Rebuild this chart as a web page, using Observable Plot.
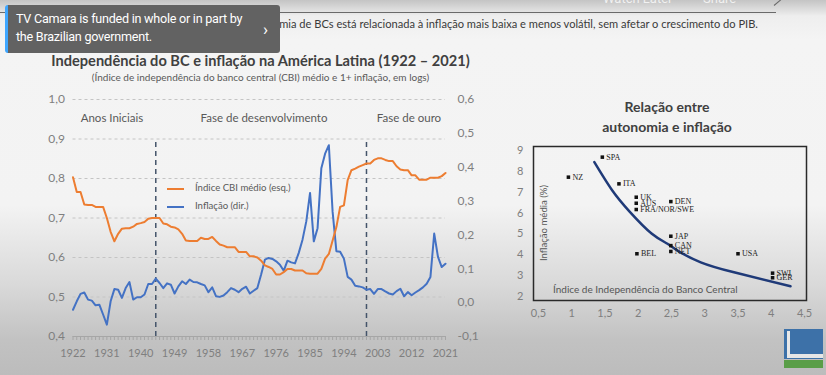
<!DOCTYPE html>
<html>
<head>
<meta charset="utf-8">
<script src="https://cdn.jsdelivr.net/npm/d3@7"></script>
<script src="https://cdn.jsdelivr.net/npm/@observablehq/plot@0.6"></script>
<style>
  html, body { margin: 0; padding: 0; }
  body {
    width: 826px; height: 375px; overflow: hidden; position: relative;
    font-family: Lato, "Open Sans", sans-serif;
    background: linear-gradient(to bottom, #c4c4c4 0px, #eeeeee 16px, #f4f4f4 40px, #f3f3f3 205px, #d9d9d9 285px, #c2c2c2 340px, #bcbcbc 375px);
  }
  .abs { position: absolute; }
  .topline { left: 0; top: 12px; width: 776px; height: 0; border-top: 1px solid #6a6a6a; }
  .topdiag { left: 774px; top: 5px; width: 17px; height: 0; border-top: 1px solid #6a6a6a; transform: rotate(-40deg); transform-origin: left center; }
  .yt { top: -9px; color: rgba(255,255,255,0.75); font-family: Roboto, sans-serif; font-size: 13px; }
  .headline { right: 68px; top: 17px; white-space: nowrap; font-family: Lato, sans-serif; font-size: 11.1px; color: #3a3a3a; }
  .infobox { left: 5px; top: 5px; width: 275px; height: 48px; background: #626262; border-radius: 3px; border-left: 3px solid #3ea6ff; box-sizing: border-box; }
  .infotext { left: 16px; top: 10px; color: #ffffff; font-family: Roboto, sans-serif; font-size: 12.6px; line-height: 18px; letter-spacing: -0.25px; }
  .chev { left: 263px; top: 19px; color: #fff; font-family: Roboto, sans-serif; font-size: 17px; }
  .title1 { left: 0; width: 521px; top: 52px; text-align: center; font-weight: bold; font-size: 14.6px; color: #404040; }
  .sub1 { left: 0; width: 521px; top: 71px; text-align: center; font-size: 10px; color: #595959; }
  .phase { top: 111px; font-size: 11.5px; color: #595959; transform: translateX(-50%); white-space: nowrap; }
  .leg { font-size: 9.6px; color: #595959; white-space: nowrap; }
  .legline { height: 0; width: 17px; }
  .title2 { left: 567px; width: 200px; top: 97px; text-align: center; font-weight: bold; font-size: 14px; line-height: 20px; color: #404040; }
  .ylab2 { left: 543px; top: 223px; font-size: 9.6px; color: #595959; transform: translate(-50%, -50%) rotate(-90deg); white-space: nowrap; }
  .xlab2 { left: 553px; top: 283px; font-size: 10px; color: #555; white-space: nowrap; }
  #left { left: 0; top: 90px; }
  #right { left: 500px; top: 140px; }
  .logo-blue { left: 784px; top: 329px; width: 39px; height: 30px; background: #3d71a8; }
  .logo-w1 { left: 787px; top: 331px; width: 3px; height: 27px; background: #e8e8e8; }
  .logo-w2 { left: 790px; top: 354px; width: 33px; height: 4px; background: #e6e6e6; }
  .logo-green { left: 784px; top: 360px; width: 39px; height: 8px; background: #5a9e48; }
</style>
</head>
<body>
<div class="abs topline"></div>
<div class="abs topdiag"></div>
<div class="abs yt" style="left:603px;">Watch Later</div>
<div class="abs yt" style="left:703px;">Share</div>
<div class="abs headline">Evidência empírica: maior autonomia de BCs está relacionada à inflação mais baixa e menos volátil, sem afetar o crescimento do PIB.</div>
<div class="abs infobox"></div>
<div class="abs infotext">TV Camara is funded in whole or in part by<br>the Brazilian government.</div>
<div class="abs chev">›</div>

<div class="abs title1">Independência do BC e inflação na América Latina (1922 – 2021)</div>
<div class="abs sub1">(Índice de independência do banco central (CBI) médio e 1+ inflação, em logs)</div>

<div class="abs" id="left"></div>
<div class="abs" id="right"></div>

<div class="abs phase" style="left:112px;">Anos Iniciais</div>
<div class="abs phase" style="left:264px;">Fase de desenvolvimento</div>
<div class="abs phase" style="left:409px;">Fase de ouro</div>

<div class="abs legline" style="left:167px; top:188px; border-top:2px solid #ED7D31;"></div>
<div class="abs leg" style="left:195px; top:182px;">Índice CBI médio (esq.)</div>
<div class="abs legline" style="left:167px; top:206px; border-top:2px solid #4472C4;"></div>
<div class="abs leg" style="left:195px; top:200px;">Inflação (dir.)</div>

<div class="abs title2">Relação entre<br>autonomia e inflação</div>
<div class="abs ylab2">Inflação média (%)</div>
<div class="abs xlab2">Índice de Independência do Banco Central</div>

<div class="abs logo-blue"></div>
<div class="abs logo-w1"></div>
<div class="abs logo-w2"></div>
<div class="abs logo-green"></div>

<script>
// ---------- Left chart data ----------
const years = d3.range(1922, 2022);
const cbiIndex = [
  0.803, 0.766, 0.766, 0.734, 0.733, 0.733, 0.728, 0.728, 0.728,
  0.700, 0.665, 0.641, 0.660, 0.673, 0.674, 0.674, 0.678, 0.685, 0.687, 0.690, 0.698, 0.700, 0.700, 0.700,
  0.686, 0.684, 0.678, 0.676, 0.671, 0.660, 0.643, 0.642, 0.642, 0.642, 0.650, 0.647, 0.647, 0.652, 0.642,
  0.633, 0.630, 0.626, 0.626, 0.626, 0.614, 0.614, 0.614, 0.603, 0.603, 0.600, 0.592, 0.580, 0.576, 0.571,
  0.557, 0.557, 0.563, 0.571, 0.571, 0.567, 0.567, 0.567, 0.560, 0.559, 0.559, 0.559, 0.571, 0.597, 0.609,
  0.643, 0.677, 0.728, 0.732, 0.796, 0.821, 0.825, 0.830, 0.834, 0.838, 0.838, 0.847, 0.851, 0.851, 0.847,
  0.844, 0.844, 0.831, 0.823, 0.821, 0.821, 0.808, 0.808, 0.797, 0.797, 0.797, 0.802, 0.802, 0.802, 0.806, 0.814
];
const inflation = [
  -0.021, 0.004, 0.026, 0.030, 0.009, 0.006, -0.008, -0.006, -0.035,
  -0.065, 0.004, 0.040, 0.038, 0.014, 0.043, 0.061, 0.009, 0.016, 0.016, 0.024, 0.055, 0.055, 0.071, 0.058,
  0.043, 0.057, 0.053, 0.027, 0.048, 0.063, 0.055, 0.068, 0.061, 0.060, 0.055, 0.051, 0.031, 0.045, 0.019,
  0.017, 0.021, 0.031, 0.043, 0.038, 0.031, 0.041, 0.047, 0.027, 0.035, 0.043, 0.083, 0.127, 0.132, 0.129,
  0.122, 0.112, 0.094, 0.124, 0.119, 0.116, 0.147, 0.186, 0.240, 0.324, 0.181, 0.220, 0.397, 0.440, 0.465,
  0.268, 0.152, 0.150, 0.130, 0.076, 0.068, 0.050, 0.048, 0.045, 0.038, 0.040, 0.026, 0.040, 0.040, 0.033,
  0.027, 0.024, 0.034, 0.041, 0.019, 0.031, 0.022, 0.030, 0.037, 0.045, 0.056, 0.076, 0.204, 0.135, 0.105, 0.115
];
const phaseBreaks = [1944, 2000];
const leftTicks = [0.4, 0.5, 0.6, 0.7, 0.8, 0.9, 1.0];
const rightTicks = [-0.1, 0.0, 0.1, 0.2, 0.3, 0.4, 0.5, 0.6];
const yearLabels = [1922, 1931, 1940, 1949, 1958, 1967, 1976, 1985, 1994, 2003, 2012, 2021];

// ---------- Right chart data ----------
const countries = ["SPA", "NZ", "ITA", "UK", "AUS", "FRA/NOR/SWE", "DEN", "JAP", "CAN", "NET", "BEL", "USA", "SWI", "GER"];
const cbiCountry = [1.46, 0.95, 1.71, 1.97, 1.97, 1.97, 2.49, 2.49, 2.49, 2.49, 1.98, 3.50, 4.02, 4.02];
const inflCountry = [8.68, 7.72, 7.40, 6.76, 6.47, 6.17, 6.55, 4.89, 4.44, 4.16, 4.05, 4.05, 3.12, 2.90];
const fitX = [1.34, 1.61, 1.87, 2.20, 2.44, 2.59, 2.94, 3.44, 4.29];
const fitY = [8.44, 7.08, 6.07, 5.02, 4.53, 4.20, 3.64, 3.16, 2.49];
const xTicks2 = [0.5, 1, 1.5, 2, 2.5, 3, 3.5, 4, 4.5];
const yTicks2 = [2, 3, 4, 5, 6, 7, 8, 9];

// ---------- helpers ----------
const toLeft = v => 0.4 + (v + 0.1) * (0.6 / 0.7);
const fromLeft = v => (v - 0.4) * (0.7 / 0.6) - 0.1;
const fmt1 = d => { const r = Math.abs(d) < 1e-9 ? 0 : d; return r.toFixed(1).replace(".", ","); };

const cbiData = years.map((y, i) => ({year: y, value: cbiIndex[i]}));
const inflData = years.map((y, i) => ({year: y, value: inflation[i]}));

const left = Plot.plot({
  width: 490, height: 285,
  marginLeft: 72.5, marginRight: 45, marginTop: 9, marginBottom: 39,
  x: {domain: [1922, 2021]},
  y: {domain: [0.4, 1.0]},
  style: {background: "transparent", fontFamily: "Lato, sans-serif", fontSize: "12px", color: "#7f7f7f", overflow: "visible"},
  marks: [
    Plot.ruleY(leftTicks.filter(d => d > 0.4), {stroke: "#c4c4c4", strokeDasharray: "3,3", strokeWidth: 1}),
    Plot.ruleX(phaseBreaks, {y1: 0.4, y2: 0.893, stroke: "#44546a", strokeDasharray: "5,4", strokeWidth: 1.5}),
    Plot.axisX(years, {tickSize: 4, tickFormat: () => "", stroke: "#a6a6a6", label: null}),
    Plot.ruleY([0.4], {stroke: "#a6a6a6", strokeWidth: 1}),
    Plot.axisX(yearLabels, {tickSize: 0, tickPadding: 13, tickFormat: d => String(d), fontSize: 11, label: null}),
    Plot.axisY(leftTicks, {tickSize: 0, tickPadding: 8, tickFormat: fmt1, label: null}),
    Plot.axisY(rightTicks.map(toLeft), {anchor: "right", tickSize: 0, tickPadding: 12, tickFormat: d => fmt1(fromLeft(d)), label: null}),
    Plot.line(inflData, {x: "year", y: d => toLeft(d.value), stroke: "#4472C4", strokeWidth: 2}),
    Plot.line(cbiData, {x: "year", y: "value", stroke: "#ED7D31", strokeWidth: 2})
  ]
});
document.getElementById("left").appendChild(left);

const ctry = countries.map((c, i) => ({name: c, x: cbiCountry[i], y: inflCountry[i]}));
const fit = fitX.map((x, i) => ({x, y: fitY[i]}));

const right = Plot.plot({
  width: 326, height: 185,
  marginLeft: 33, marginRight: 20, marginTop: 6, marginBottom: 25,
  x: {domain: [0.425, 4.53]},
  y: {domain: [1.81, 9.19]},
  style: {background: "transparent", fontFamily: "Lato, sans-serif", fontSize: "11px", color: "#7f7f7f", overflow: "visible"},
  marks: [
    Plot.axisY(yTicks2, {tickSize: 0, tickPadding: 10, label: null}),
    Plot.axisX(xTicks2, {tickSize: 0, tickPadding: 9, tickFormat: d => String(d).replace(".", ","), label: null}),
    Plot.line(fit, {x: "x", y: "y", curve: "natural", stroke: "#1f3a78", strokeWidth: 2.5}),
    Plot.dot(ctry, {x: "x", y: "y", symbol: "square", r: 2, fill: "#111", stroke: "none"}),
    Plot.text(ctry, {x: "x", y: "y", text: "name", dx: 4, textAnchor: "start", fontFamily: "Liberation Serif, serif", fontSize: 8, fill: "#222"}),
    Plot.frame({stroke: "#2a2a2a", strokeWidth: 1.5})
  ]
});
document.getElementById("right").appendChild(right);
</script>
</body>
</html>
